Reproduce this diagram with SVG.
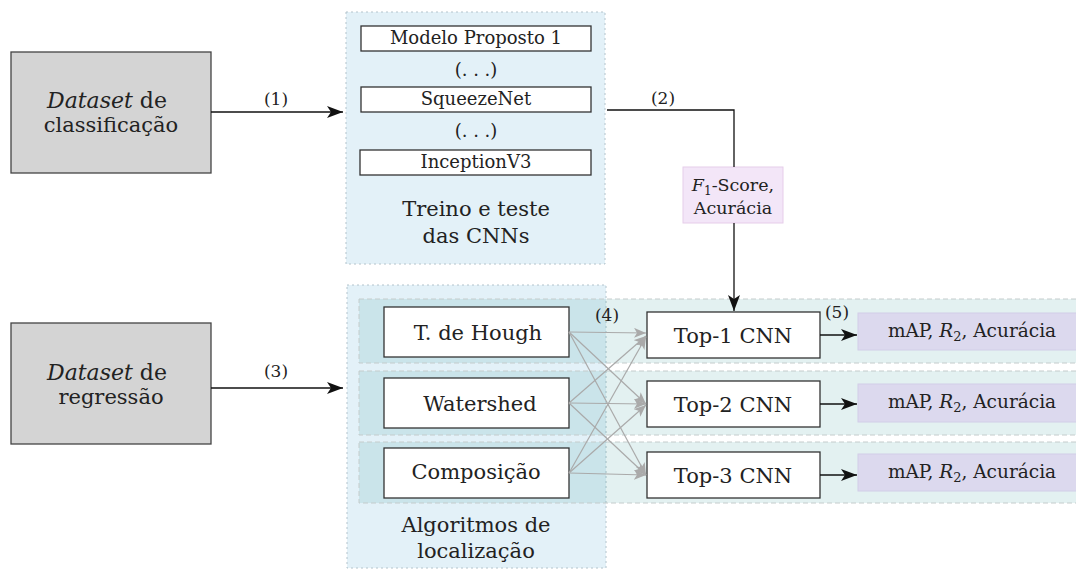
<svg xmlns="http://www.w3.org/2000/svg" width="1076" height="570" viewBox="0 0 1076 570" font-family="'DejaVu Serif', 'Liberation Serif', serif">
<style>
text{font-family:"DejaVu Serif","Liberation Serif",serif;fill:#222;text-anchor:middle}
.big{font-size:21px}
.ds-t{font-size:22px}
.mid{font-size:18px}
.sm{font-size:18.5px}
.f1t{font-size:17.5px}
.lbl{font-size:17px}
.ds{fill:#d4d4d4;stroke:#444;stroke-width:1.3}
.grp{fill:#e3f1f8;stroke:#b4c4cc;stroke-width:1;stroke-dasharray:2,3}
.band{fill:#008080;fill-opacity:0.11;stroke:#c4cccc;stroke-width:1;stroke-dasharray:5,3}
.node{fill:#fff;stroke:#333;stroke-width:1.3}
.met{fill:#dcd9ee;stroke:#d2cee8;stroke-width:1}
.f1{fill:#f3e6f8;stroke:#e6cdea;stroke-width:1}
.blk{fill:none;stroke:#111;stroke-width:1.3}
.gry{fill:none;stroke:#aaa;stroke-width:1.2}
</style>
<defs>
<marker id="ab" markerUnits="userSpaceOnUse" markerWidth="18" markerHeight="12" refX="16" refY="6" orient="auto">
<path d="M0,0 L16,6 L0,12 L4,6 z" fill="#111"/>
</marker>
<marker id="ag" markerUnits="userSpaceOnUse" markerWidth="14" markerHeight="10" refX="12" refY="5" orient="auto">
<path d="M0,0 L12,5 L0,10 L3,5 z" fill="#aaa"/>
</marker>
</defs>

<g id="grp-treino">
<rect class="grp" x="346" y="12" width="259" height="252"/>
<text class="big" x="476" y="216">Treino e teste</text>
<text class="big" x="476" y="243">das CNNs</text>
</g>
<g id="grp-algoritmos">
<rect class="grp" x="347" y="285" width="259" height="283"/>
<text class="big" x="476" y="532">Algoritmos de</text>
<text class="big" x="476" y="558">localização</text>
</g>
<g id="bands">
<rect class="band" x="359" y="299" width="730" height="64"/>
<rect class="band" x="359" y="371" width="730" height="64"/>
<rect class="band" x="359" y="442" width="730" height="61"/>
</g>

<g id="ds-class">
<rect class="ds" x="11" y="52" width="200" height="121"/>
<text class="ds-t" x="107" y="108"><tspan font-style="italic">Dataset</tspan> de</text>
<text class="big" x="111" y="132">classificação</text>
</g>
<g id="ds-reg">
<rect class="ds" x="11" y="323" width="200" height="121"/>
<text class="ds-t" x="107" y="380"><tspan font-style="italic">Dataset</tspan> de</text>
<text class="big" x="111" y="404">regressão</text>
</g>

<g id="modelo">
<rect class="node" x="361" y="26" width="230" height="25"/>
<text class="mid" x="476" y="44">Modelo Proposto 1</text>
</g>
<g id="dots1"><text class="mid" x="476" y="76">(. . .)</text></g>
<g id="squeeze">
<rect class="node" x="361" y="87" width="230" height="25"/>
<text class="mid" x="476" y="105">SqueezeNet</text>
</g>
<g id="dots2"><text class="mid" x="476" y="137">(. . .)</text></g>
<g id="inception">
<rect class="node" x="360" y="150" width="231" height="25"/>
<text class="mid" x="476" y="168">InceptionV3</text>
</g>

<g id="f1">
<rect class="f1" x="683" y="167" width="100" height="56"/>
<text class="f1t" x="733" y="191"><tspan font-style="italic">F</tspan><tspan font-size="12" dy="4">1</tspan><tspan dy="-4">-Score,</tspan></text>
<text class="f1t" x="733" y="214">Acurácia</text>
</g>

<g id="hough">
<rect class="node" x="384" y="307" width="185" height="50"/>
<text class="big" x="478" y="340">T. de Hough</text>
</g>
<g id="watershed">
<rect class="node" x="384" y="378" width="185" height="50"/>
<text class="big" x="480" y="411">Watershed</text>
</g>
<g id="composicao">
<rect class="node" x="384" y="448" width="185" height="50"/>
<text class="big" x="476" y="479">Composição</text>
</g>

<g id="top1">
<rect class="node" x="647" y="312" width="173" height="46"/>
<text class="big" x="733" y="343">Top-1 CNN</text>
</g>
<g id="top2">
<rect class="node" x="647" y="381" width="173" height="46"/>
<text class="big" x="733" y="412">Top-2 CNN</text>
</g>
<g id="top3">
<rect class="node" x="647" y="452" width="173" height="46"/>
<text class="big" x="733" y="483">Top-3 CNN</text>
</g>

<g id="met1">
<rect class="met" x="858" y="313" width="222" height="37"/>
<text class="sm" x="972" y="337">mAP, <tspan font-style="italic">R</tspan><tspan font-size="13" dy="4">2</tspan><tspan dy="-4">, Acurácia</tspan></text>
</g>
<g id="met2">
<rect class="met" x="858" y="384" width="222" height="38"/>
<text class="sm" x="972" y="408">mAP, <tspan font-style="italic">R</tspan><tspan font-size="13" dy="4">2</tspan><tspan dy="-4">, Acurácia</tspan></text>
</g>
<g id="met3">
<rect class="met" x="858" y="454" width="222" height="37"/>
<text class="sm" x="972" y="478">mAP, <tspan font-style="italic">R</tspan><tspan font-size="13" dy="4">2</tspan><tspan dy="-4">, Acurácia</tspan></text>
</g>

<g id="connectors">
<path class="blk" d="M211,112 L343,112" marker-end="url(#ab)"/>
<text class="lbl" x="276" y="105">(1)</text>
<path class="blk" d="M607,110 L734,110 L734,167"/>
<path class="blk" d="M734,223 L734,311" marker-end="url(#ab)"/>
<text class="lbl" x="663" y="104">(2)</text>
<path class="blk" d="M211,388 L343,388" marker-end="url(#ab)"/>
<text class="lbl" x="276" y="377">(3)</text>
<text class="lbl" x="607" y="321">(4)</text>
<text class="lbl" x="837" y="318">(5)</text>
<path class="blk" d="M820,335 L857,335" marker-end="url(#ab)"/>
<path class="blk" d="M820,404 L857,404" marker-end="url(#ab)"/>
<path class="blk" d="M820,475 L857,475" marker-end="url(#ab)"/>
<path class="gry" d="M569,332 L646,333" marker-end="url(#ag)"/>
<path class="gry" d="M569,332 L646,404" marker-end="url(#ag)"/>
<path class="gry" d="M569,332 L646,475" marker-end="url(#ag)"/>
<path class="gry" d="M569,403 L646,336" marker-end="url(#ag)"/>
<path class="gry" d="M569,403 L646,404" marker-end="url(#ag)"/>
<path class="gry" d="M569,403 L646,475" marker-end="url(#ag)"/>
<path class="gry" d="M569,473 L646,337" marker-end="url(#ag)"/>
<path class="gry" d="M569,473 L646,405" marker-end="url(#ag)"/>
<path class="gry" d="M569,473 L646,475" marker-end="url(#ag)"/>
</g>
</svg>
